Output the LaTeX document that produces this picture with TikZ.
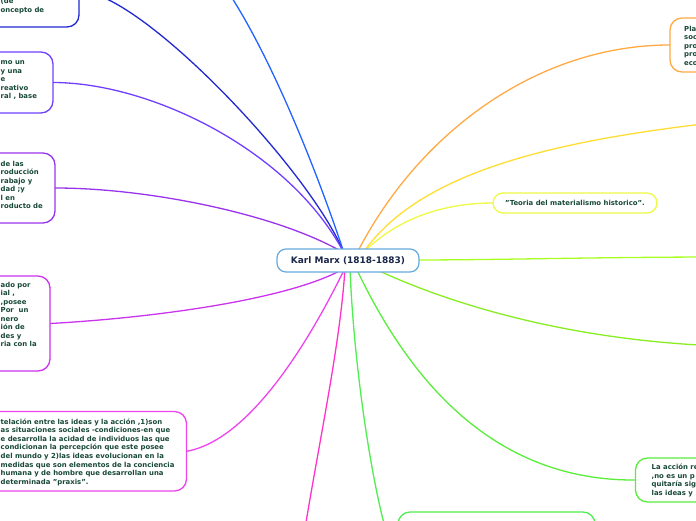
\documentclass[tikz,border=0pt]{standalone}
\usepackage{fontspec}
\setmainfont{DejaVu Sans}
\usetikzlibrary{calc}
\definecolor{tgreen}{RGB}{24,72,56}
\definecolor{cnavy}{RGB}{26,40,72}
\definecolor{ckm}{RGB}{102,170,221}
\definecolor{cblueA}{RGB}{34,40,210}
\definecolor{cblueB}{RGB}{34,100,255}
\definecolor{cviolet}{RGB}{112,64,255}
\definecolor{cpurple}{RGB}{153,51,238}
\definecolor{cmagA}{RGB}{204,51,238}
\definecolor{cmagB}{RGB}{238,68,238}
\definecolor{cpink}{RGB}{255,51,204}
\definecolor{cgreenA}{RGB}{80,238,80}
\definecolor{cgreenB}{RGB}{90,238,60}
\definecolor{clgreen}{RGB}{136,238,34}
\definecolor{cygreen}{RGB}{170,255,34}
\definecolor{cyellow}{RGB}{238,250,68}
\definecolor{cgold}{RGB}{255,221,51}
\definecolor{corange}{RGB}{255,170,68}
\tikzset{
  conn/.style={line width=1.3pt},
  mbox/.style={draw, rounded corners=12pt, fill=white, line width=1.3pt, inner sep=0pt},
  txt/.style={font=\bfseries\fontsize{6.9}{8.6}\selectfont, text=tgreen, inner sep=0pt, anchor=base west},
}
\begin{document}
\begin{tikzpicture}[x=1pt,y=-1pt]
\useasboundingbox (0,0) rectangle (696,520);
\clip (0,0) rectangle (696,520);
\fill[white] (0,0) rectangle (696,520);

% box positions (for connector ends)
\path node[minimum width=199pt, minimum height=72pt, inner sep=0pt] (b1) at (-20.5,-9) {};
\path node[minimum width=153pt, minimum height=61pt, inner sep=0pt] (b2) at (-23.5,82.5) {};
\path node[minimum width=155pt, minimum height=70pt, inner sep=0pt] (b3) at (-22.5,188) {};
\path node[minimum width=150pt, minimum height=95pt, inner sep=0pt] (b4) at (-25,323.5) {};
\path node[minimum width=286.5pt, minimum height=79.5pt, inner sep=0pt] (b5) at (43.25,451.25) {};
\path node[minimum width=130pt, minimum height=54pt, inner sep=0pt] (b6) at (735,45) {};
\path node[minimum width=164.5pt, minimum height=44pt, inner sep=0pt] (b11) at (717.75,480) {};
\path node[minimum width=197pt, minimum height=88pt, inner sep=0pt] (b12) at (496.5,556) {};
\path node[minimum width=164pt, minimum height=20pt, inner sep=0pt] (b8) at (575,203) {};

% anchor points on the central node
\coordinate (kt) at (344,253);
\coordinate (kto) at (357,253);
\coordinate (ktr) at (363,253);
\coordinate (kb) at (345,268);
\coordinate (kb2) at (350,268);
\coordinate (kb3) at (356,268);
\coordinate (kr) at (373,268);
\coordinate (kr2) at (410,260);
% free ends outside the picture
\coordinate (e2) at (220,-20);
\coordinate (e7) at (300,560);
\coordinate (e10) at (720,346);
\coordinate (e11) at (720,257);
\coordinate (e13) at (720,122);

% connectors
\draw[conn, cblueA] (kt) .. controls (310,170) and (140,-9) .. (b1.east);
\draw[conn, cblueB] (kt) .. controls (320,180) and (270,50) .. (e2);
\draw[conn, cviolet] (b2.east) .. controls (150,82.5) and (290,150) .. (kt);
\draw[conn, cpurple] (b3.east) .. controls (150,188) and (280,215) .. (kt);
\draw[conn, cmagA] (b4.east) .. controls (150,318) and (290,300) .. (kb);
\draw[conn, cmagB] (b5.east) .. controls (250,440) and (310,340) .. (kb);
\draw[conn, cpink] (kb) .. controls (340,350) and (315,460) .. (e7);
\draw[conn, cgreenA] (kb2) .. controls (355,400) and (385,556) .. (b12.west);
\draw[conn, cgreenB] (kb3) .. controls (400,360) and (480,481) .. (b11.west);
\draw[conn, clgreen] (kr) .. controls (440,300) and (560,340) .. (e10);
\draw[conn, cygreen] (kr2) .. controls (500,260) and (600,257) .. (e11);
\draw[conn, cyellow] (ktr) .. controls (400,215) and (450,203) .. (b8.west);
\draw[conn, cgold] (ktr) .. controls (420,170) and (560,140) .. (e13);
\draw[conn, corange] (kto) .. controls (420,130) and (540,45) .. (b6.west);

% visible boxes, drawn over the connectors
\path node[mbox, draw=cblueA, minimum width=199pt, minimum height=72pt] (b1r) at (b1) {};
\path node[mbox, draw=cviolet, minimum width=153pt, minimum height=61pt] (b2r) at (b2) {};
\path node[mbox, draw=cpurple, minimum width=155pt, minimum height=70pt] (b3r) at (b3) {};
\path node[mbox, draw=cmagA, minimum width=150pt, minimum height=95pt] (b4r) at (b4) {};
\path node[mbox, draw=cmagB, minimum width=286.5pt, minimum height=79.5pt] (b5r) at (b5) {};
\path node[mbox, draw=corange, minimum width=130pt, minimum height=54pt] (b6r) at (b6) {};
\path node[mbox, draw=cgreenB, minimum width=164.5pt, minimum height=44pt] (b11r) at (b11) {};
\path node[mbox, draw=cgreenA, minimum width=197pt, minimum height=88pt] (b12r) at (b12) {};
\path node[mbox, draw=cyellow, rounded corners=10pt, minimum width=164pt, minimum height=20pt,
  font=\bfseries\fontsize{6.9}{8.6}\selectfont, text=tgreen] (b8r) at (b8) {"Teoria del materialismo historico".};

% central node
\node[draw=ckm, line width=1.2pt, rounded corners=9pt, fill=white, minimum width=142pt, minimum height=23pt,
  font=\bfseries\fontsize{9}{11}\selectfont, text=cnavy, inner sep=0pt] (km) at (348,260.5) {Karl Marx (1818-1883)};

% texts
\foreach \t [count=\i] in {{(de}, {oncepto de}}
  \node[txt] (tb1l\i) at (0.5,{1.5+2.3+8.5*(\i-1)}) {\t};
\foreach \t [count=\i] in {{mo un}, {y una}, {e}, {reativo}, {ral , base}}
  \node[txt] (tb2l\i) at (0.5,{62.5+2.3+8.5*(\i-1)}) {\t};
\foreach \t [count=\i] in {{de las}, {roducción}, {rabajo y}, {dad ;y}, {l en}, {roducto de}}
  \node[txt] (tb3l\i) at (0.5,{164+2.3+8.5*(\i-1)}) {\t};
\foreach \t [count=\i] in {{ado por}, {ial ,}, {,posee}, {Por\ \ un}, {nero}, {ión de}, {des y}, {ria con la}}
  \node[txt] (tb4l\i) at (0.5,{285+2.3+8.5*(\i-1)}) {\t};
\foreach \t [count=\i] in {{telación entre las ideas y la acción ,1)son}, {as situaciones sociales -condiciones-en que}, {e desarrolla la acidad de individuos las que}, {condicionan la percepción que este posee}, {del mundo y 2)las ideas evolucionan en la}, {medidas que son elementos de la conciencia}, {humana y de hombre que desarrollan una}, {determinada "praxis".}}
  \node[txt] (tb5l\i) at (0.5,{421.7+2.3+8.66*(\i-1)}) {\t};
\foreach \t [count=\i] in {{Pla}, {soc}, {pro}, {pro}, {eco}}
  \node[txt] (tb6l\i) at (684,{29+2.3+8.5*(\i-1)}) {\t};
\foreach \t [count=\i] in {{La acción re}, {,no es un p}, {quitaría sig}, {las ideas y}}
  \node[txt] (tb11l\i) at (651.5,{467.5+2.3+8.5*(\i-1)}) {\t};
\end{tikzpicture}
\end{document}
